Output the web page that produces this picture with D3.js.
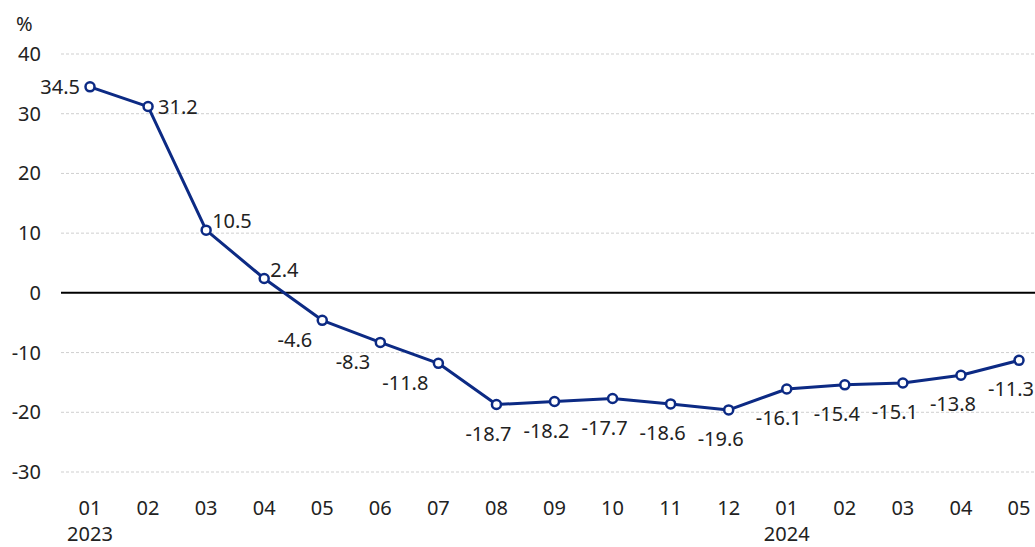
<!DOCTYPE html>
<html>
<head>
<meta charset="utf-8">
<script src="https://cdn.jsdelivr.net/npm/d3@7"></script>
<style>
  body { margin: 0; background: #fff; }
  svg text { font-family: "Noto Sans", sans-serif; font-size: 20px; fill: #222; }
</style>
</head>
<body>
<div id="chart"></div>
<script>
// data
const months = ["01","02","03","04","05","06","07","08","09","10","11","12","01","02","03","04","05"];
const years = ["2023","","","","","","","","","","","","2024","","","",""];
const values = [34.5, 31.2, 10.5, 2.4, -4.6, -8.3, -11.8, -18.7, -18.2, -17.7, -18.6, -19.6, -16.1, -15.4, -15.1, -13.8, -11.3];
const yTicks = [40, 30, 20, 10, 0, -10, -20, -30];
// where each value label sits relative to its point
const labelSide = ["left","right","upRight","upRight","downLeft","downLeft","downLeft",
                   "below","below","below","below","below","below","below","below","below","below"];

const WIDTH = 1035, HEIGHT = 547;
const svg = d3.select("#chart").append("svg")
    .attr("width", WIDTH).attr("height", HEIGHT);

const idx = d3.range(values.length);
const x = d3.scalePoint().domain(idx).range([90, 1019]);
const y = d3.scaleLinear().domain([-30, 40]).range([472, 54]);

// grid
svg.selectAll(".grid")
   .data(yTicks.filter(d => d !== 0))
   .enter().append("line")
     .attr("x1", 61).attr("x2", WIDTH)
     .attr("y1", d => y(d)).attr("y2", d => y(d))
     .attr("stroke", "#cfcfcf")
     .attr("stroke-dasharray", "3,2")
     .attr("stroke-width", 1);

// zero line
svg.append("line")
   .attr("x1", 61).attr("x2", WIDTH)
   .attr("y1", y(0)).attr("y2", y(0))
   .attr("stroke", "#000").attr("stroke-width", 2);

// y tick labels
svg.selectAll(".ytick")
   .data(yTicks)
   .enter().append("text")
     .attr("x", 41).attr("y", d => y(d))
     .attr("dy", "0.35em")
     .attr("text-anchor", "end")
     .text(d => d);

svg.append("text").attr("x", 16).attr("y", 31).text("%");

// x labels
svg.selectAll(".xtick")
   .data(idx)
   .enter().append("text")
     .attr("x", i => x(i)).attr("y", 515)
     .attr("text-anchor", "middle")
     .text(i => months[i]);
svg.selectAll(".year")
   .data(idx.filter(i => years[i]))
   .enter().append("text")
     .attr("x", i => x(i)).attr("y", 541)
     .attr("text-anchor", "middle")
     .text(i => years[i]);

// line
const line = d3.line().x(i => x(i)).y(i => y(values[i]));
svg.append("path")
   .datum(idx)
   .attr("d", line)
   .attr("fill", "none")
   .attr("stroke", "#0c2a84")
   .attr("stroke-width", 3)
   .attr("stroke-linejoin", "round");

svg.selectAll(".dot")
   .data(idx)
   .enter().append("circle")
     .attr("cx", i => x(i)).attr("cy", i => y(values[i]))
     .attr("r", 4.5)
     .attr("fill", "#fff")
     .attr("stroke", "#0c2a84")
     .attr("stroke-width", 2.5);

// value labels
const off = {
  left:     {dx: -10, dy: 0,  anchor: "end"},
  right:    {dx: 10,  dy: 0,  anchor: "start"},
  upRight:  {dx: 6,   dy: -9, anchor: "start"},
  downLeft: {dx: -10, dy: 20, anchor: "end"},
  below:    {dx: -8,  dy: 29, anchor: "middle"}
};
svg.selectAll(".val")
   .data(idx)
   .enter().append("text")
     .attr("x", i => x(i) + off[labelSide[i]].dx)
     .attr("y", i => y(values[i]) + off[labelSide[i]].dy)
     .attr("dy", "0.35em")
     .attr("text-anchor", i => off[labelSide[i]].anchor)
     .text(i => values[i].toFixed(1));
</script>
</body>
</html>
